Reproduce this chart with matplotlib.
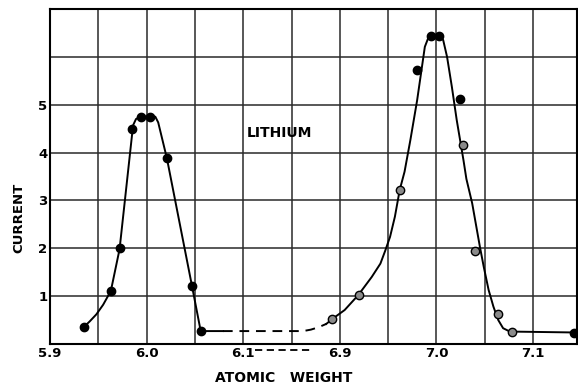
import numpy as np
import matplotlib
matplotlib.use("Agg")
import matplotlib.pyplot as plt

# measured points: atomic weight vs current (Li6 peak, Li7 peak)
li6_x = [5.935, 5.963, 5.972, 5.985, 5.994, 6.004, 6.021, 6.047, 6.056]
li6_y = [0.35, 1.10, 2.00, 4.50, 4.75, 4.75, 3.88, 1.21, 0.28]

li7_x = [6.892, 6.920, 6.962, 6.980, 6.994, 7.003, 7.024, 7.027, 7.040, 7.064, 7.078, 7.142]
li7_y = [0.52, 1.02, 3.22, 5.73, 6.43, 6.43, 5.11, 4.15, 1.95, 0.63, 0.26, 0.24]
li7_solid = [0, 0, 0, 1, 1, 1, 1, 0, 0, 0, 0, 1]  # 1 = black dot, 0 = open circle

# hand-drawn curves
curve6_x = [5.935, 5.941, 5.948, 5.955, 5.963, 5.972, 5.986, 5.989, 5.993, 6.009, 6.012,
            6.021, 6.047, 6.056, 6.079]
curve6_y = [0.355, 0.47, 0.62, 0.82, 1.11, 1.98, 4.57, 4.70, 4.75, 4.75, 4.63,
            3.88, 1.21, 0.27, 0.27]

gap_x = [6.079, 6.862, 6.870, 6.878, 6.886]
gap_y = [0.27, 0.27, 0.30, 0.35, 0.42]

curve7_x = [6.886, 6.892, 6.905, 6.919, 6.933, 6.942, 6.947, 6.952, 6.957, 6.962, 6.967,
            6.973, 6.980, 6.985, 6.988, 6.992, 6.995, 7.004, 7.007, 7.011, 7.016, 7.021,
            7.028, 7.031, 7.037, 7.045, 7.049, 7.054, 7.059, 7.064, 7.069, 7.076, 7.146]
curve7_y = [0.42, 0.52, 0.71, 1.02, 1.40, 1.68, 1.95, 2.24, 2.66, 3.22, 3.60,
            4.26, 5.09, 5.79, 6.21, 6.42, 6.45, 6.45, 6.35, 6.00, 5.37, 4.68,
            3.84, 3.45, 2.94, 2.03, 1.61, 1.13, 0.78, 0.50, 0.33, 0.26, 0.24]

grid_x = [5.9, 5.95, 6.0, 6.05, 6.1, 6.15, 6.9, 6.95, 7.0, 7.05, 7.1]
tick_x = {5.9: "5.9", 6.0: "6.0", 6.1: "6.1", 6.9: "6.9", 7.0: "7.0", 7.1: "7.1"}
tick_y = [1, 2, 3, 4, 5]


# broken axis: 6.1 ... 6.9 squeezed together
def fwd(w):
    w = np.asarray(w, dtype=float)
    return np.where(w < 6.5, w, w - 0.7)


def inv(d):
    d = np.asarray(d, dtype=float)
    return np.where(d < 6.175, d, d + 0.7)


plt.rcParams["font.family"] = ["DejaVu Sans"]
fig = plt.figure(figsize=(5.78, 3.84), dpi=100)
ax = fig.add_axes([50 / 578, 40 / 384, 527 / 578, 335 / 384])
ax.set_xscale("function", functions=(fwd, inv))
ax.set_xlim(5.9, 7.1455)
ax.set_ylim(0, 7)

ax.set_xticks(grid_x)
ax.set_xticklabels([tick_x.get(round(v, 2), "") for v in grid_x])
ax.set_yticks(range(0, 8))
ax.set_yticklabels(["" if v not in tick_y else str(v) for v in range(0, 8)])
ax.tick_params(length=0, labelsize=9.5, pad=2)
for lab in ax.get_xticklabels() + ax.get_yticklabels():
    lab.set_fontweight("bold")
ax.grid(True, color="#2a2a2a", lw=1.1)
for sp in ax.spines.values():
    sp.set_linewidth(1.5)

ax.plot(curve6_x, curve6_y, color="black", lw=1.4, zorder=3)
ax.plot(gap_x, gap_y, color="black", lw=1.4, ls=(0, (5, 3.5)), zorder=3)
ax.plot(curve7_x, curve7_y, color="black", lw=1.4, zorder=3)

ax.plot(li6_x, li6_y, "o", color="black", ms=6, zorder=4)
for x, y, s in zip(li7_x, li7_y, li7_solid):
    ax.plot(x, y, "o", ms=6, zorder=4, mec="black", mew=1.0,
            mfc="black" if s else "#8a8a8a")

# dashes between the 6.1 and 6.9 tick labels
ax.plot([6.112, 6.872], [-0.13, -0.13], color="black", lw=1.3, ls=(0, (4, 2.5)), clip_on=False)

ax.text(6.137, 4.40, "LITHIUM", fontsize=10, fontweight="bold", ha="center", va="center")
ax.set_xlabel("ATOMIC   WEIGHT", fontsize=10, fontweight="bold")
ax.xaxis.set_label_coords((284 - 50) / 527, -0.082)
ax.set_ylabel("CURRENT", fontsize=9.5, fontweight="bold")
ax.yaxis.set_label_coords(-0.047, (344 - 218) / 335)

fig.savefig("out.png", dpi=100)
